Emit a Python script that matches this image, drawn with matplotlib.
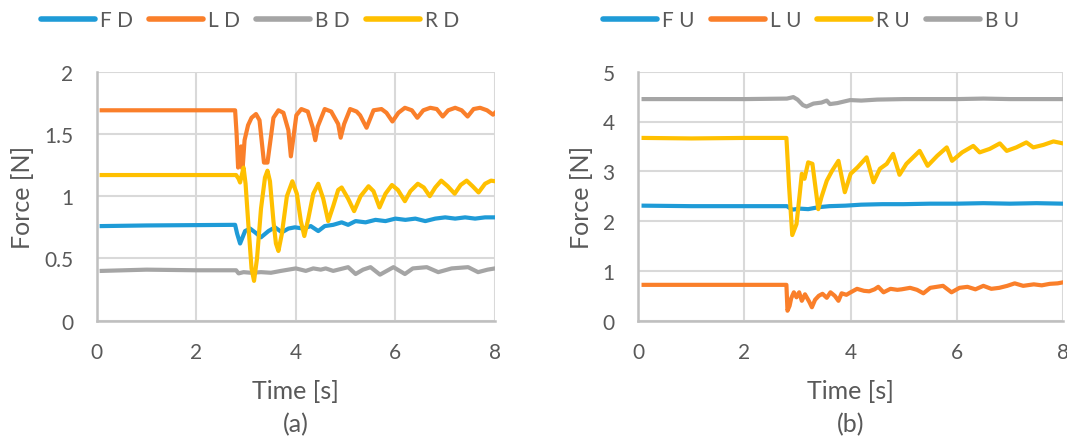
import matplotlib
matplotlib.use('Agg')
import matplotlib.pyplot as plt

# ---- panel (a): downward forces ----
fd_t = [0.1, 1.0, 2.78, 2.82, 2.88, 2.98, 3.08, 3.18, 3.3, 3.45, 3.58, 3.72, 3.85, 3.98, 4.15, 4.3,
        4.45, 4.58, 4.75, 4.92, 5.05, 5.2, 5.4, 5.6, 5.8, 6.0, 6.2, 6.4, 6.6, 6.8, 7.0, 7.2, 7.4,
        7.6, 7.8, 8.0]
fd_v = [0.76, 0.765, 0.77, 0.70, 0.62, 0.72, 0.74, 0.71, 0.67, 0.72, 0.75, 0.71, 0.74, 0.75, 0.74,
        0.76, 0.72, 0.76, 0.77, 0.79, 0.77, 0.80, 0.79, 0.81, 0.80, 0.82, 0.81, 0.82, 0.80, 0.82,
        0.83, 0.82, 0.83, 0.82, 0.83, 0.83]

ld_t = [0.1, 2.78, 2.81, 2.84, 2.87, 2.90, 2.93, 2.97, 3.04, 3.11, 3.20, 3.27, 3.32, 3.36, 3.43,
        3.48, 3.55, 3.65, 3.75, 3.85, 3.90, 3.95, 4.01, 4.11, 4.24, 4.34, 4.39, 4.44, 4.58, 4.71,
        4.85, 4.90, 4.97, 5.09, 5.22, 5.29, 5.42, 5.56, 5.72, 5.82, 5.94, 6.06, 6.19, 6.33, 6.44,
        6.56, 6.70, 6.83, 6.95, 7.06, 7.20, 7.33, 7.45, 7.57, 7.70, 7.84, 7.96, 8.0]
ld_v = [1.69, 1.69, 1.50, 1.23, 1.30, 1.40, 1.22, 1.45, 1.57, 1.63, 1.66, 1.61, 1.42, 1.27, 1.27,
        1.42, 1.63, 1.69, 1.67, 1.53, 1.32, 1.47, 1.65, 1.70, 1.68, 1.55, 1.45, 1.56, 1.70, 1.68,
        1.58, 1.47, 1.58, 1.70, 1.68, 1.65, 1.55, 1.69, 1.70, 1.67, 1.60, 1.67, 1.71, 1.69, 1.63,
        1.69, 1.71, 1.70, 1.64, 1.69, 1.71, 1.69, 1.64, 1.70, 1.71, 1.69, 1.655, 1.67]

bd_t = [0.1, 1.0, 2.0, 2.8, 2.85, 2.95, 3.1, 3.3, 3.5, 3.7, 3.85, 4.0, 4.1, 4.2, 4.35, 4.5, 4.6,
        4.75, 4.95, 5.05, 5.2, 5.35, 5.5, 5.69, 5.96, 6.19, 6.35, 6.63, 6.86, 7.13, 7.46, 7.66,
        7.85, 8.0]
bd_v = [0.40, 0.41, 0.405, 0.405, 0.38, 0.39, 0.385, 0.39, 0.385, 0.40, 0.41, 0.42, 0.41, 0.40,
        0.42, 0.41, 0.42, 0.40, 0.42, 0.43, 0.375, 0.41, 0.43, 0.37, 0.43, 0.375, 0.42, 0.43,
        0.39, 0.42, 0.43, 0.39, 0.41, 0.42]

rd_t = [0.1, 2.80, 2.85, 2.88, 2.92, 2.95, 2.99, 3.05, 3.11, 3.16, 3.22, 3.30, 3.38, 3.43, 3.48,
        3.55, 3.60, 3.65, 3.72, 3.82, 3.93, 4.02, 4.10, 4.17, 4.25, 4.35, 4.45, 4.55, 4.65, 4.75,
        4.85, 4.92, 5.05, 5.17, 5.30, 5.46, 5.56, 5.68, 5.80, 5.93, 6.05, 6.19, 6.30, 6.45, 6.57,
        6.69, 6.80, 6.92, 7.05, 7.19, 7.31, 7.43, 7.55, 7.67, 7.80, 7.92, 8.0]
rd_v = [1.17, 1.17, 1.14, 1.11, 1.18, 1.23, 1.10, 0.75, 0.42, 0.32, 0.50, 0.90, 1.15, 1.205, 1.12,
        0.80, 0.62, 0.56, 0.70, 1.00, 1.12, 1.02, 0.80, 0.68, 0.82, 1.02, 1.10, 0.98, 0.80, 0.92,
        1.05, 1.07, 0.98, 0.88, 1.00, 1.08, 1.04, 0.91, 1.02, 1.09, 1.05, 0.96, 1.04, 1.10, 1.07,
        1.00, 1.07, 1.125, 1.08, 1.02, 1.09, 1.125, 1.08, 1.03, 1.10, 1.125, 1.12]

# ---- panel (b): upward forces ----
fu_t = [0.1, 1.0, 2.0, 2.8, 2.9, 3.05, 3.2, 3.4, 3.6, 3.9, 4.2, 4.6, 5.0, 5.5, 6.0, 6.5, 7.0, 7.5, 8.0]
fu_v = [2.31, 2.30, 2.30, 2.30, 2.23, 2.25, 2.24, 2.28, 2.30, 2.31, 2.33, 2.34, 2.34, 2.35, 2.35,
        2.36, 2.35, 2.36, 2.35]

lu_t = [0.1, 2.79, 2.81, 2.85, 2.88, 2.93, 2.98, 3.03, 3.08, 3.14, 3.22, 3.27, 3.33, 3.40, 3.47,
        3.55, 3.62, 3.70, 3.77, 3.83, 3.92, 4.0, 4.12, 4.25, 4.35, 4.45, 4.52, 4.62, 4.75, 4.88,
        4.96, 5.12, 5.25, 5.37, 5.5, 5.74, 5.90, 6.05, 6.2, 6.35, 6.5, 6.65, 6.8, 6.95, 7.09,
        7.25, 7.45, 7.6, 7.75, 7.9, 8.0]
lu_v = [0.72, 0.72, 0.20, 0.30, 0.45, 0.57, 0.47, 0.57, 0.40, 0.53, 0.38, 0.27, 0.42, 0.50, 0.54,
        0.46, 0.57, 0.50, 0.40, 0.55, 0.52, 0.57, 0.64, 0.60, 0.59, 0.63, 0.68, 0.57, 0.64, 0.62,
        0.63, 0.66, 0.62, 0.55, 0.66, 0.70, 0.57, 0.66, 0.68, 0.63, 0.70, 0.64, 0.66, 0.70, 0.75,
        0.70, 0.73, 0.71, 0.74, 0.75, 0.77]

ru_t = [0.1, 1.0, 2.0, 2.79, 2.84, 2.90, 2.98, 3.04, 3.08, 3.13, 3.20, 3.28, 3.39, 3.45, 3.55,
        3.65, 3.77, 3.89, 4.0, 4.13, 4.30, 4.43, 4.55, 4.68, 4.80, 4.92, 5.05, 5.30, 5.45, 5.63,
        5.81, 5.91, 6.10, 6.31, 6.43, 6.62, 6.81, 6.94, 7.12, 7.31, 7.44, 7.63, 7.82, 8.0]
ru_v = [3.67, 3.66, 3.67, 3.67, 2.70, 1.72, 1.94, 2.54, 2.95, 2.85, 3.18, 3.15, 2.24, 2.48, 2.81,
        3.01, 3.21, 2.58, 2.95, 3.08, 3.28, 2.78, 3.05, 3.15, 3.35, 2.93, 3.15, 3.41, 3.11, 3.31,
        3.48, 3.21, 3.38, 3.51, 3.38, 3.45, 3.56, 3.41, 3.48, 3.58, 3.48, 3.53, 3.60, 3.56]

bu_t = [0.1, 2.0, 2.8, 2.92, 3.0, 3.1, 3.17, 3.3, 3.45, 3.55, 3.61, 3.75, 3.99, 4.2, 4.5, 5.0,
        6.0, 6.5, 7.0, 8.0]
bu_v = [4.45, 4.45, 4.46, 4.49, 4.44, 4.33, 4.30, 4.36, 4.38, 4.42, 4.35, 4.37, 4.43, 4.42, 4.44,
        4.45, 4.45, 4.46, 4.45, 4.45]

BLUE = '#1f9bd7'
ORANGE = '#fa7f2a'
GRAY = '#a5a5a5'
GOLD = '#ffc000'
TXT = '#595959'

plt.rcParams['font.family'] = ['Lato', 'DejaVu Sans']

W, H = 1067, 439
fig = plt.figure(figsize=(W / 100, H / 100), dpi=100)


def px_axes(x0, x1, y0, y1):
    return fig.add_axes([x0 / W, 1 - y1 / H, (x1 - x0) / W, (y1 - y0) / H])


def style(ax, ymax, yticks, ylabels, label_x, sub):
    ax.set_xlim(0, 8)
    ax.set_ylim(0, ymax)
    ax.set_xticks([0, 2, 4, 6, 8])
    ax.set_yticks(yticks)
    ax.set_yticklabels(ylabels)
    ax.grid(True, color='#d9d9d9', linewidth=1.5)
    ax.set_axisbelow(True)
    for s in ['top', 'right']:
        ax.spines[s].set_visible(False)
    for s in ['left', 'bottom']:
        ax.spines[s].set_color('#bfbfbf')
        ax.spines[s].set_linewidth(1.8)
    ax.tick_params(length=0, labelsize=15, labelcolor=TXT)
    ax.tick_params(axis='x', pad=15)
    ax.tick_params(axis='y', pad=17)
    ax.set_xlabel('Time [s]', fontsize=18, color=TXT, va='center')
    ax.set_ylabel('Force [N]', fontsize=18, color=TXT, va='center')
    ax.xaxis.set_label_coords(0.5, -0.282)
    ax.yaxis.set_label_coords(label_x, 0.5)
    ax.text(0.5, -0.415, sub, transform=ax.transAxes, ha='center', va='center',
            fontsize=18, color=TXT)


lw = 3

ax1 = px_axes(96.7, 495, 72.7, 321.7)
ax1.plot(fd_t, fd_v, color=BLUE, lw=lw, label='F D')
ax1.plot(ld_t, ld_v, color=ORANGE, lw=lw, label='L D')
ax1.plot(bd_t, bd_v, color=GRAY, lw=lw, label='B D')
ax1.plot(rd_t, rd_v, color=GOLD, lw=lw, label='R D')
style(ax1, 2, [0, 0.5, 1, 1.5, 2], ['0', '0.5', '1', '1.5', '2'], -0.1875, '(a)')

ax2 = px_axes(638.3, 1063, 72.7, 321.7)
ax2.plot(fu_t, fu_v, color=BLUE, lw=lw, label='F U')
ax2.plot(lu_t, lu_v, color=ORANGE, lw=lw, label='L U')
ax2.plot(ru_t, ru_v, color=GOLD, lw=lw, label='R U')
ax2.plot(bu_t, bu_v, color=GRAY, lw=lw, label='B U')
style(ax2, 5, [0, 1, 2, 3, 4, 5], ['0', '1', '2', '3', '4', '5'], -0.1326, '(b)')

for ax, x0 in [(ax1, 41), (ax2, 603)]:
    leg = ax.legend(loc='center left', bbox_to_anchor=(x0 / W, 1 - 21 / H),
                    bbox_transform=fig.transFigure, ncol=4, frameon=False,
                    fontsize=15, handlelength=2.6, handletextpad=0.25,
                    columnspacing=0.75, borderpad=0, borderaxespad=0)
    for t in leg.get_texts():
        t.set_color(TXT)
    for h in leg.get_lines():
        h.set_linewidth(4)
        h.set_solid_capstyle('round')

fig.savefig('out.png', dpi=100)
